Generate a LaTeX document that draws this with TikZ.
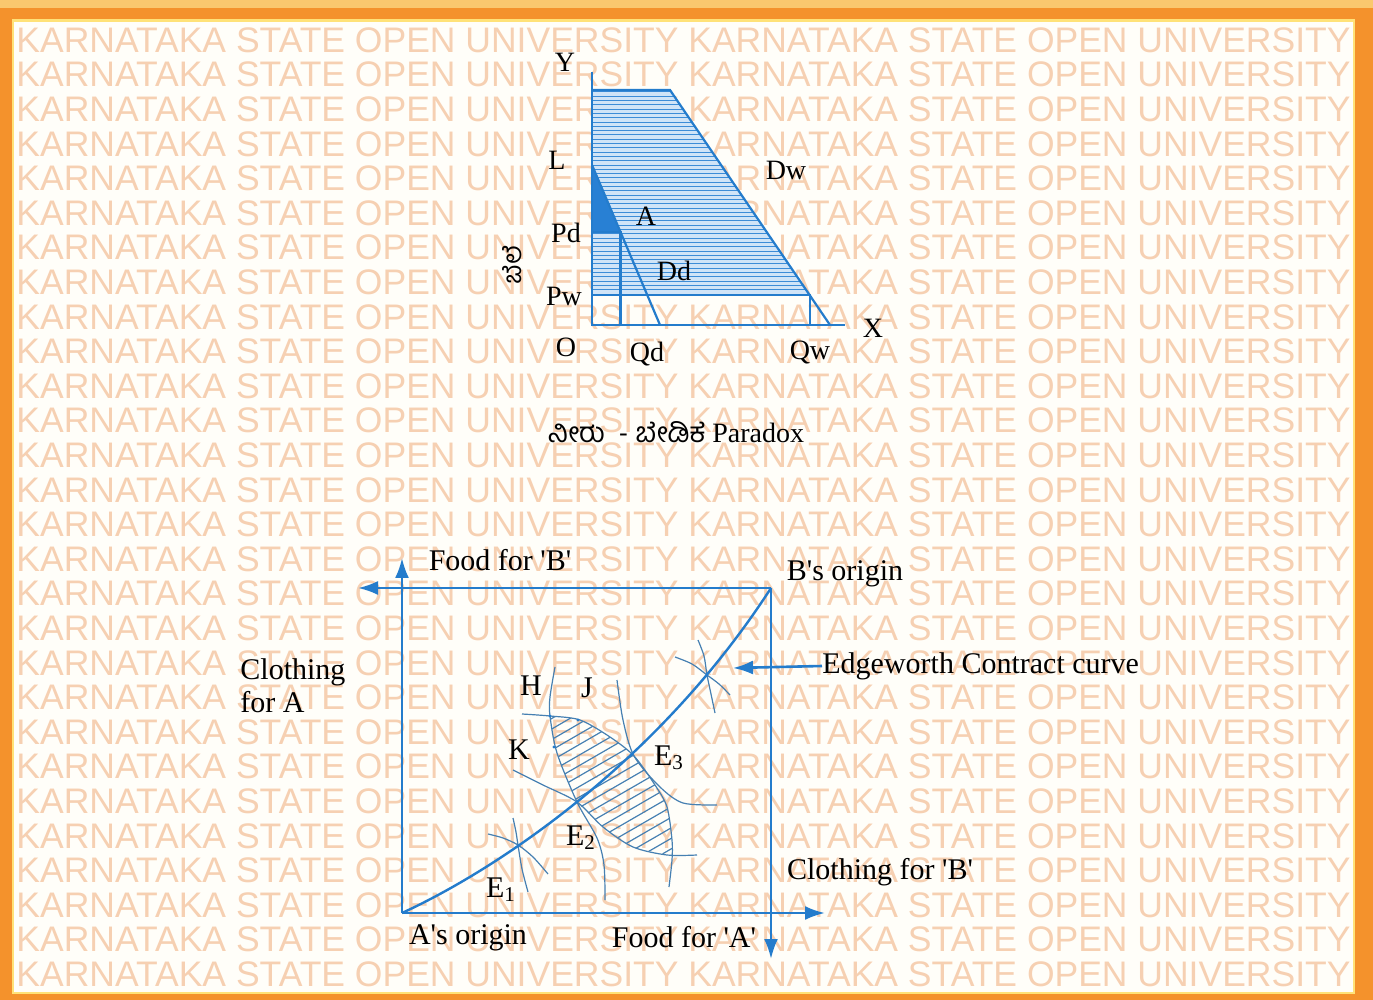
\documentclass[tikz,border=0pt]{standalone}
\usepackage{fontspec}
\setmainfont{Liberation Serif}[Ligatures=TeXOff]
\newfontfamily\wmfont{Liberation Sans}
\newfontfamily\kanfont[Script=Kannada]{Hind Mysuru}
\usetikzlibrary{arrows.meta}
\definecolor{borderor}{RGB}{244,146,44}
\definecolor{bordertop}{RGB}{250,200,110}
\definecolor{borderin}{RGB}{255,226,120}
\definecolor{wmcol}{RGB}{246,208,178}
\definecolor{bgcol}{RGB}{255,254,249}
\definecolor{lineblue}{RGB}{36,124,204}
\definecolor{hatchblue}{RGB}{60,140,215}
\definecolor{fillblue}{RGB}{208,228,247}
\definecolor{solidblue}{RGB}{40,128,212}
\definecolor{icblue}{RGB}{70,128,178}
\begin{document}
\begin{tikzpicture}[x=0.5pt,y=-0.5pt,
  lbl/.style={font=\fontsize{15}{16.5}\selectfont, inner sep=0pt, text=black},
  slbl/.style={font=\fontsize{14}{16}\selectfont, inner sep=0pt, text=black},
  wm/.style={font=\wmfont\fontsize{17.75}{20}\selectfont, inner sep=0pt, text=wmcol, anchor=west},
  axis/.style={draw=lineblue, line width=1.1pt},
  arr/.style={draw=lineblue, line width=1.3pt, -{Latex[length=10pt,width=7pt]}},
  ccurve/.style={draw=lineblue, line width=1.2pt},
  icurve/.style={draw=icblue, line width=0.6pt}]
\useasboundingbox (0,0) rectangle (1373,1000);
% frame
\fill[borderor] (0,0) rectangle (1373,1000);
\fill[bordertop] (0,0) rectangle (1373,8);
\fill[borderin] (12,19) rectangle (1355,994);
\fill[bgcol] (14,22) rectangle (1353,992);
% watermark
\foreach \i in {0,...,27}{
  \node[wm] (wm\i) at (16,40+34.6*\i) {KARNATAKA STATE OPEN UNIVERSITY KARNATAKA STATE OPEN UNIVERSITY};
}
% ---------------- top diagram ----------------
\coordinate (O) at (592,325);
\coordinate (Ytop) at (592,72);
\coordinate (Xend) at (845,325);
\coordinate (T1) at (592,90);
\coordinate (T2) at (670,90);
\coordinate (Dwe) at (830,325);
\coordinate (Lp) at (592,165);
\coordinate (Dde) at (660,325);
\coordinate (PdA) at (592,232);
\coordinate (Apt) at (620.5,232);
\coordinate (Qdp) at (620.5,325);
\coordinate (PwA) at (592,295);
\coordinate (Bpt) at (809.6,295);
\coordinate (Qwp) at (809.6,325);
\begin{scope}
  \clip (T1) -- (T2) -- (Bpt) -- (PwA) -- cycle;
  \fill[fillblue] (T1) -- (T2) -- (Bpt) -- (PwA) -- cycle;
  \foreach \y in {92,96.3,...,296} \draw[hatchblue, line width=0.5pt] (585,\y) -- (840,\y);
\end{scope}
\fill[solidblue] (Lp) -- (Apt) -- (PdA) -- cycle;
\draw[axis] (Ytop) -- (O) -- (Xend);
\draw[axis] (T1) -- (T2) -- (Dwe);
\draw[axis] (Lp) -- (Dde);
\draw[axis] (PdA) -- (Apt) -- (Qdp);
\draw[axis] (PwA) -- (Bpt) -- (Qwp);
\node[slbl] (lY) at (565,62) {Y};
\node[slbl] (lL) at (557,160) {L};
\node[slbl] (lPd) at (566,233) {Pd};
\node[slbl] (lPw) at (564,296) {Pw};
\node[slbl] (lO) at (566,347) {O};
\node[slbl] (lQd) at (647,354) {Qd};
\node[slbl] (lQw) at (810,353) {Qw};
\node[slbl] (lX) at (873,328) {X};
\node[slbl] (lDw) at (786,170) {Dw};
\node[slbl] (lA) at (646,216) {A};
\node[slbl] (lDd) at (674,271) {Dd};
\node[rotate=90, inner sep=0pt, font=\kanfont\fontsize{13}{15}\selectfont] (price) at (512,265) {ಬೆಲೆ};
\node[inner sep=0pt, font=\fontsize{14}{16}\selectfont] (cap) at (676,432) {{\kanfont ನೀರು\ \ - ಬೇಡಿಕೆ} Paradox};
% ---------------- Edgeworth box ----------------
\coordinate (Ao) at (402,913);
\coordinate (Bo) at (771,588);
\coordinate (FBtip) at (402,558);
\coordinate (TLtip) at (358,588);
\coordinate (BRtip) at (825,913);
\coordinate (RDtip) at (771,959);
\draw[arr] (Ao) -- (FBtip);
\draw[arr] (Bo) -- (TLtip);
\draw[arr] (Ao) -- (BRtip);
\draw[arr] (Bo) -- (RDtip);
% lens hatch
\begin{scope}
  \clip plot[smooth] coordinates {(550,716) (580,720) (610,737) (634,756) (655,785) (667,807) (672,840) (671,855)}
     -- plot[smooth] coordinates {(671,855) (633,847) (603,827) (577,802)}
     -- plot[smooth] coordinates {(577,802) (557,753) (550,716)} -- cycle;
  \foreach \k in {-30,...,30} \draw[icblue, line width=0.6pt] (480,760+10.5*\k) -- (760,760+10.5*\k-162);
\end{scope}
% indifference curves
\draw[icurve] plot[smooth] coordinates {(555,667) (550,697) (550,716) (557,753) (577,802) (597,838) (604,865) (605,900)};
\draw[icurve] plot[smooth] coordinates {(522,714) (550,716) (580,720) (610,737) (634,756) (655,785) (667,807) (672,840) (672,860) (669,887)};
\draw[icurve] plot[smooth] coordinates {(617,680) (623,720) (634,756) (660,787) (683,803) (717,805)};
\draw[icurve] plot[smooth] coordinates {(513,770) (543,785) (577,802) (603,827) (633,847) (667,855) (697,855)};
\draw[icurve] plot[smooth] coordinates {(488,834) (503,838) (518,845) (533,857) (548,874)};
\draw[icurve] plot[smooth] coordinates {(513,818) (516,832) (518,845) (522,869) (528,892)};
\draw[icurve] plot[smooth] coordinates {(675,657) (692,664) (707,675) (719,684) (730,695)};
\draw[icurve] plot[smooth] coordinates {(698,640) (704,656) (707,675) (711,694) (715,713)};
\fill[lineblue] (550,716) circle (1.6) (578,720) circle (1.6) (554,747) circle (1.6);
% contract curve
\draw[ccurve] (Ao) .. controls (500,868) and (660,760) .. (Bo);
% labels
\node[lbl] (fB) at (500,560) {Food for 'B'};
\node[lbl] (bor) at (845,574) {B's origin};
\node[lbl, anchor=west] (ecc) at (822,666) {Edgeworth Contract curve};
\coordinate (eccTip) at (733,668);
\draw[arr] (ecc.west) -- (eccTip);
\node[lbl, anchor=west, align=left] (cA) at (240,686) {Clothing\\for A};
\node[lbl] (lH) at (531,686) {H};
\node[lbl] (lJ) at (587,688) {J};
\node[lbl] (lK) at (519,750) {K};
\node[lbl] (lE3) at (669,758) {E\textsubscript{3}};
\node[lbl] (lE2) at (581,838) {E\textsubscript{2}};
\node[lbl] (lE1) at (501,890) {E\textsubscript{1}};
\node[lbl] (cB) at (880,872) {Clothing for 'B'};
\node[lbl] (aor) at (468,938) {A's origin};
\node[lbl] (fA) at (684,937) {Food for 'A'};
\end{tikzpicture}
\end{document}
